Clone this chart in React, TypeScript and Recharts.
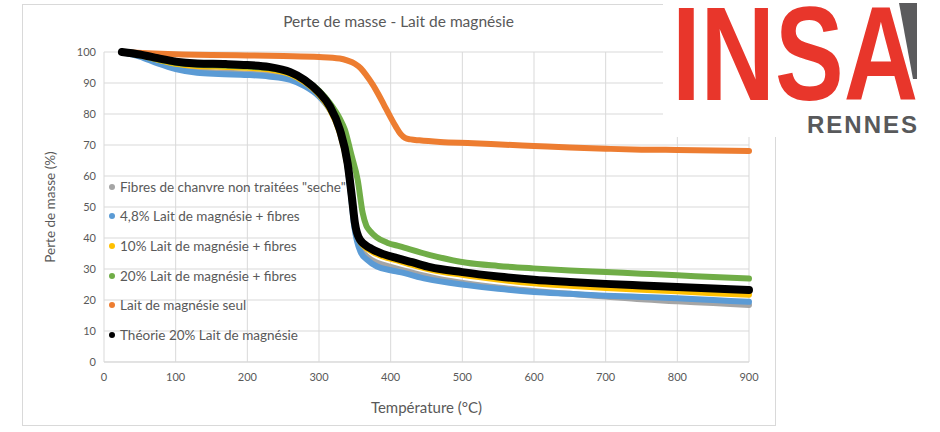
import React from 'react';
import { LineChart, Line, XAxis, YAxis, CartesianGrid, Label } from 'recharts';

// mass loss curves (temperature °C, mass %)
const grayT = [25, 50, 75, 100, 130, 160, 200, 230, 260, 280, 300, 315, 329, 338, 344, 349, 353, 358, 367, 381, 400, 430, 467, 506, 550, 600, 650, 700, 750, 800, 850, 900];
const grayM = [100, 98.8, 96.8, 95, 93.8, 93.4, 93, 92.6, 91.4, 89.3, 86, 81.8, 75, 66.5, 56, 45.5, 40, 36.5, 34, 32, 30.7, 28.8, 26.8, 25.3, 24, 22.9, 22, 21.1, 20.2, 19.6, 19, 18.4];

const blueT = [25, 50, 75, 100, 130, 160, 200, 230, 260, 280, 300, 315, 329, 338, 344, 349, 353, 358, 367, 381, 400, 413, 450, 506, 550, 600, 650, 700, 750, 800, 850, 900];
const blueM = [100, 98.5, 96.3, 94.5, 93.3, 92.9, 92.6, 92.1, 91, 89, 85.7, 81.5, 75, 66, 55, 44, 39, 35.5, 33, 30.8, 29.6, 29, 26.8, 24.8, 23.6, 22.6, 22, 21.4, 21, 20.6, 20, 19.4];

const yellowT = [25, 50, 75, 100, 130, 170, 200, 230, 260, 280, 300, 315, 329, 340, 346, 350, 357, 371, 390, 409, 430, 455, 500, 550, 600, 650, 700, 750, 800, 850, 900];
const yellowM = [100, 99, 97.5, 96.2, 95.5, 95.2, 94.9, 94.4, 92.8, 90.3, 86.3, 81.5, 74, 63, 52, 44.5, 39, 36, 34, 32.8, 31.3, 29.8, 28.1, 26.6, 25.4, 24.6, 23.9, 23.3, 22.8, 22.2, 21.7];

const greenT = [25, 50, 75, 100, 130, 170, 200, 230, 260, 280, 300, 315, 329, 336, 345, 354, 361, 366, 371, 380, 395, 413, 455, 506, 550, 599, 650, 700, 750, 800, 850, 900];
const greenM = [100, 99, 97.6, 96.5, 95.9, 95.6, 95.3, 94.8, 93.2, 91, 87.5, 83.5, 78.5, 75, 67, 58.7, 48, 44, 42.3, 40.3, 38.5, 37.3, 34.5, 32, 31, 30.2, 29.5, 29, 28.5, 28, 27.4, 26.9];

const orangeT = [25, 60, 100, 150, 200, 250, 300, 329, 340, 350, 358, 366, 375, 383, 391, 399, 407, 414, 420, 428, 440, 469, 515, 560, 600, 650, 700, 750, 800, 850, 900];
const orangeM = [100, 99.6, 99.3, 99, 98.9, 98.7, 98.4, 97.9, 97.2, 96.2, 94.8, 92.5, 89.5, 86.3, 82.8, 79.3, 76, 73.5, 72.3, 71.8, 71.5, 71, 70.6, 70.1, 69.7, 69.2, 68.8, 68.5, 68.4, 68.2, 68.1];

const blackT = [25, 50, 75, 100, 130, 170, 200, 230, 260, 280, 300, 315, 329, 340, 346, 350, 357, 371, 390, 409, 430, 455, 500, 550, 600, 650, 700, 750, 800, 850, 900];
const blackM = [100, 99.2, 98, 96.9, 96.3, 96.1, 95.8, 95.2, 93.5, 91, 87, 82.5, 75, 64, 53, 45, 39.5, 36.8, 34.8, 33.5, 32.2, 30.6, 29, 27.6, 26.5, 25.8, 25.2, 24.7, 24.2, 23.7, 23.2];

const xTicks = [0, 100, 200, 300, 400, 500, 600, 700, 800, 900];
const yTicks = [0, 10, 20, 30, 40, 50, 60, 70, 80, 90, 100];

const toPoints = (t: number[], m: number[]) => t.map((x, i) => ({ t: x, m: m[i] }));

const series = [
    { name: 'Fibres de chanvre non traitées "seche"', color: '#A5A5A5', width: 6, data: toPoints(grayT, grayM) },
    { name: '4,8% Lait de magnésie + fibres', color: '#5B9BD5', width: 6, data: toPoints(blueT, blueM) },
    { name: '10% Lait de magnésie + fibres', color: '#FFC000', width: 6, data: toPoints(yellowT, yellowM) },
    { name: '20% Lait de magnésie + fibres', color: '#70AD47', width: 6, data: toPoints(greenT, greenM) },
    { name: 'Lait de magnésie seul', color: '#ED7D31', width: 6, data: toPoints(orangeT, orangeM) },
    { name: 'Théorie 20% Lait de magnésie', color: '#000000', width: 8, data: toPoints(blackT, blackM) },
];

const FONT = 'Lato, "Liberation Sans", sans-serif';
const TXT = '#595959';

// legend sits inside the plot area, over the grid
function InsideLegend() {
    return (
        <div style={{ position: 'absolute', left: 109, top: 172, fontFamily: FONT, fontSize: 13.5, color: TXT }}>
            {series.map((s) => (
                <div key={s.name} style={{ display: 'flex', alignItems: 'center', height: 29.6 }}>
                    <span style={{ width: 6, height: 6, borderRadius: 3, background: s.color, marginRight: 5 }} />
                    <span>{s.name}</span>
                </div>
            ))}
        </div>
    );
}

export default function App() {
    return (
        <div style={{ position: 'fixed', left: 0, top: 0, width: 940, height: 432, background: '#fff', overflow: 'hidden' }}>
            <div style={{ position: 'absolute', left: 22, top: 4, width: 752, height: 420, border: '1px solid #D9D9D9' }} />
            <div style={{ position: 'absolute', left: 22, width: 753, top: 12, textAlign: 'center', fontFamily: FONT, fontSize: 15.5, color: TXT }}>
                Perte de masse - Lait de magnésie
            </div>
            <div style={{ position: 'absolute', left: 0, top: 0 }}>
                <LineChart width={940} height={432} margin={{ top: 52, right: 191, left: 44, bottom: 10 }}>
                    <CartesianGrid stroke="#D9D9D9" strokeWidth={1} />
                    <XAxis
                        type="number" dataKey="t" domain={[0, 900]} ticks={xTicks} height={60}
                        axisLine={{ stroke: '#D9D9D9' }} tickLine={false} tickMargin={5}
                        tick={{ fill: TXT, fontSize: 11, fontFamily: FONT }}
                    >
                        <Label value="Température (°C)" position="insideBottom" offset={9}
                            style={{ fill: TXT, fontSize: 15, fontFamily: FONT }} />
                    </XAxis>
                    <YAxis
                        type="number" dataKey="m" domain={[0, 100]} ticks={yTicks} width={60}
                        axisLine={false} tickLine={false}
                        tick={{ fill: TXT, fontSize: 11, fontFamily: FONT }}
                    >
                        <Label value="Perte de masse (%)" angle={-90} position="insideLeft" offset={6}
                            style={{ fill: TXT, fontSize: 13.5, fontFamily: FONT, textAnchor: 'middle' }} />
                    </YAxis>
                    {series.map((s) => (
                        <Line
                            key={s.name} data={s.data} dataKey="m" name={s.name} type="monotone"
                            stroke={s.color} strokeWidth={s.width} dot={false} isAnimationActive={false}
                            strokeLinecap="round" strokeLinejoin="round"
                        />
                    ))}
                </LineChart>
            </div>
            <InsideLegend />
            <svg style={{ position: 'absolute', left: 0, top: 0 }} width={940} height={432}>
                <rect x={663} y={0} width={277} height={137} fill="#fff" />
                <polygon points="899,3 917,3 917,79 913,79" fill="#5B5B5D" />
                <text x={672} y={100} fontFamily='"Liberation Sans Narrow", "Liberation Sans", sans-serif'
                    fontWeight="bold" fontSize={133} fill="#E8362B" textLength={246} lengthAdjust="spacingAndGlyphs">INSA</text>
                <text x={807} y={133} fontFamily='"Liberation Sans", sans-serif' fontWeight="bold" fontSize={24}
                    fill="#58595B" textLength={110} lengthAdjust="spacing">RENNES</text>
            </svg>
        </div>
    );
}
